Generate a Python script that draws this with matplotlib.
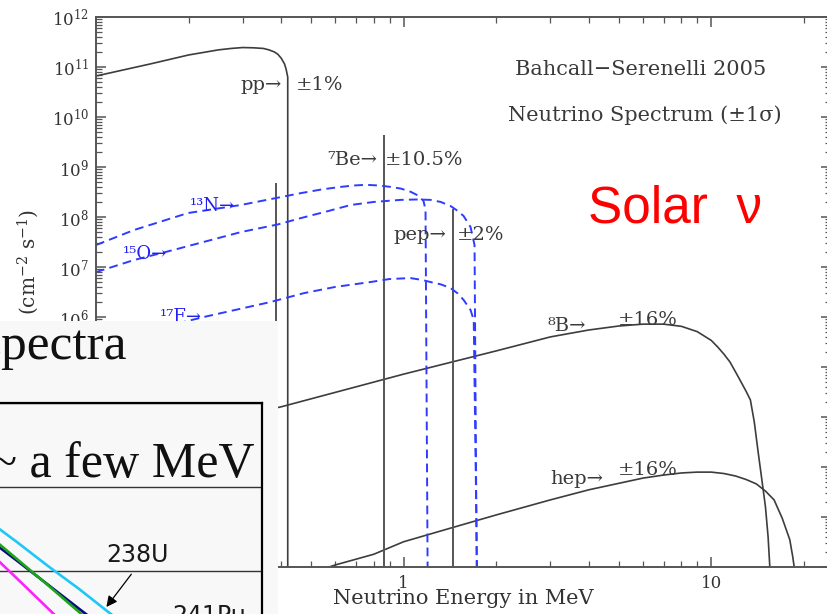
import numpy as np
import matplotlib.pyplot as plt
from matplotlib.patches import Rectangle
from matplotlib.ticker import LogLocator, FuncFormatter, NullFormatter

plt.rcParams['font.family'] = ['DejaVu Serif']
plt.rcParams['mathtext.fontset'] = 'dejavuserif'

W, H = 827, 614

# solar neutrino spectra, BS05 (MeV, flux)
pp_energy = [0.10, 0.15, 0.20, 0.25, 0.275, 0.30, 0.325, 0.35, 0.365, 0.38, 0.39, 0.40, 0.41,
             0.415, 0.42, 0.42]
pp_flux = [6.6e10, 1.15e11, 1.74e11, 2.2e11, 2.35e11, 2.45e11, 2.42e11, 2.35e11, 2.2e11, 2.0e11,
           1.8e11, 1.5e11, 1.15e11, 9.0e10, 6.3e10, 1.0]

b8_energy = [0.1, 0.2, 0.4, 1.0, 2.0, 3.0, 4.0, 5.0, 6.0, 7.0, 8.0, 9.0, 10.0, 10.5, 11.0, 11.5,
             12.0, 12.5, 13.0, 13.4, 13.8, 14.2, 14.6, 15.0, 15.3, 15.5, 15.8]
b8_flux = [2.2e3, 6.3e3, 1.6e4, 7.2e4, 2.1e5, 4.0e5, 5.5e5, 6.6e5, 7.2e5, 7.2e5, 6.5e5, 5.1e5,
           3.4e5, 2.5e5, 1.8e5, 1.26e5, 7.9e4, 5.0e4, 3.2e4, 2.2e4, 7.9e3, 2.0e3, 5.6e2, 1.6e2,
           40.0, 10.0, 1.0]

hep_energy = [0.5, 0.6, 0.8, 1.0, 1.5, 2.0, 3.0, 4.0, 6.0, 7.0, 8.0, 9.0, 10.0, 11.0, 12.0, 13.0,
              14.0, 15.0, 16.0, 17.0, 18.0, 18.4, 18.6, 18.8]
hep_flux = [7.6, 11.0, 18.0, 32.0, 66.0, 110.0, 220.0, 350.0, 600.0, 690.0, 760.0, 790.0, 790.0,
            740.0, 660.0, 560.0, 460.0, 330.0, 220.0, 95.0, 35.0, 16.0, 10.0, 1.0]

n13_energy = [0.10, 0.133, 0.199, 0.296, 0.463, 0.54, 0.624, 0.69, 0.753, 0.83, 0.907, 0.98, 1.053,
              1.10, 1.135, 1.16, 1.178, 1.199]
n13_flux = [2.75e7, 5.5e7, 1.2e8, 1.74e8, 3.0e8, 3.55e8, 4.0e8, 4.27e8, 4.4e8, 4.27e8, 4.0e8,
            3.7e8, 3.2e8, 2.8e8, 2.4e8, 2.1e8, 1.4e8, 1.0]

o15_energy = [0.10, 0.133, 0.179, 0.296, 0.39, 0.463, 0.57, 0.673, 0.80, 0.978, 1.10, 1.223, 1.32,
              1.42, 1.50, 1.566, 1.65, 1.70, 1.732]
o15_flux = [7.9e6, 1.38e7, 2.2e7, 5.0e7, 7.1e7, 9.5e7, 1.32e8, 1.74e8, 2.0e8, 2.2e8, 2.24e8,
            2.2e8, 2.0e8, 1.66e8, 1.32e8, 1.05e8, 6.3e7, 2.75e7, 1.0]

f17_energy = [0.10, 0.151, 0.224, 0.37, 0.474, 0.60, 0.78, 0.90, 1.053, 1.15, 1.223, 1.32, 1.42,
              1.50, 1.566, 1.65, 1.69, 1.74]
f17_flux = [2.75e5, 5.5e5, 1.0e6, 2.0e6, 3.0e6, 4.0e6, 5.0e6, 5.75e6, 6.0e6, 5.5e6, 5.0e6, 4.5e6,
            3.8e6, 2.95e6, 2.2e6, 1.38e6, 8.7e5, 1.0]

# line sources: 7Be (0.384, 0.862) and pep
line_energy = [0.384, 0.862, 1.442]
line_flux = [4.8e8, 4.4e9, 1.44e8]

# reactor antineutrino spectra (MeV, per fission per MeV)
reactor_energy = [5.0, 5.5, 6.0, 6.5, 7.0, 7.5, 8.0]
u238_flux = [0.078, 0.041, 0.022, 0.0115, 0.0062, 0.0032, 0.0017]
u235_flux = [0.047, 0.025, 0.0132, 0.0069, 0.0036, 0.0019, 0.0010]
pu239_flux = [0.058, 0.028, 0.0138, 0.0068, 0.0033, 0.0016, 0.0008]
pu241_flux = [0.041, 0.018, 0.0081, 0.0036, 0.0016, 0.00072, 0.00032]

fig = plt.figure(figsize=(W / 100, H / 100), dpi=100)
ax = fig.add_axes([96 / W, 1 - 567 / H, 735 / W, 550 / H])

dark = '#3d3d3d'
blue = '#2f3cff'

ax.plot(pp_energy, pp_flux, color=dark, lw=1.2)
ax.plot(b8_energy, b8_flux, color=dark, lw=1.2)
ax.plot(hep_energy, hep_flux, color=dark, lw=1.2)
ax.vlines(line_energy, 1.0, line_flux, color='#555555', lw=1.4)
for e, f in [(n13_energy, n13_flux), (o15_energy, o15_flux), (f17_energy, f17_flux)]:
    ax.plot(e, f, color=blue, lw=1.4, dashes=(4.5, 2.7))

ax.set_xscale('log')
ax.set_yscale('log')
ax.set_xlim(0.1, 24.5)
ax.set_ylim(10, 1e12)
ax.yaxis.set_major_locator(LogLocator(base=10, numticks=20))
ax.yaxis.set_minor_locator(LogLocator(base=10, subs=np.arange(2, 10), numticks=100))
ax.xaxis.set_minor_locator(LogLocator(base=10, subs=np.arange(2, 10), numticks=100))
ax.xaxis.set_major_formatter(FuncFormatter(lambda v, p: f'{v:g}'))
ax.xaxis.set_minor_formatter(NullFormatter())
ax.yaxis.set_major_formatter(FuncFormatter(lambda v, p: r'$10^{%d}$' % round(np.log10(v))))
ax.yaxis.set_minor_formatter(NullFormatter())
ax.tick_params(which='both', direction='in', top=True, right=True, color='#555555',
               labelcolor='#333333', labelsize=12)
ax.tick_params(which='major', length=7, width=1.1)
ax.tick_params(which='minor', length=4, width=0.9)
ax.tick_params(axis='y', pad=5)
ax.tick_params(axis='x', pad=6)
for s in ax.spines.values():
    s.set_color('#555555')
    s.set_linewidth(1.4)

ax.set_xlabel('Neutrino Energy in MeV', fontsize=15, color='#333333')
ax.xaxis.set_label_coords(0.5, -0.04)


def label(x, y, s, **kw):
    kw.setdefault('color', '#3a3a3a')
    kw.setdefault('fontsize', 14)
    ax.text(x / W, 1 - y / H, s, transform=fig.transFigure, ha='left', va='baseline', **kw)


label(240, 90, 'pp→')
label(296, 90, '±1%')
label(327, 165, '⁷Be→')
label(385, 165, '±10.5%')
label(393, 240, 'pep→')
label(457, 240, '±2%')
label(548, 331, '⁸B→')
label(618, 325, '±16%')
label(550, 484, 'hep→')
label(618, 475, '±16%')
label(190, 211, '¹³N→', color='#2020ee', fontsize=13)
label(123, 259, '¹⁵O→', color='#2020ee', fontsize=13)
label(160, 322, '¹⁷F→', color='#2020ee', fontsize=13)
label(515, 75, 'Bahcall−Serenelli 2005', fontsize=15)
label(508, 121, 'Neutrino Spectrum (±1σ)', fontsize=15)
label(588, 223, 'Solar  ν', color='#ff0000', fontsize=37, family='Liberation Sans')
ax.text(28 / W, 1 - 262 / H, '(cm$^{-2}$ s$^{-1}$)', transform=fig.transFigure, rotation=90,
        ha='center', va='center', fontsize=14.5, color='#333333')

# reactor spectra panel laid over the lower left corner
fig.add_artist(Rectangle((0, 0), 278 / W, (H - 321) / H, transform=fig.transFigure,
                         facecolor='#f8f8f8', edgecolor='none', zorder=2))

ins = fig.add_axes([-350 / W, (H - 655) / H, 612 / W, 252 / H], zorder=3)
ins.set_facecolor('none')
ins.set_yscale('log')
ins.set_xlim(0, 10)
ins.set_ylim(1e-3, 1)
ins.plot(reactor_energy, u238_flux, color='#1ec8f5', lw=1.9)
ins.plot(reactor_energy, u235_flux, color='#0a0a80', lw=1.9)
ins.plot(reactor_energy, pu239_flux, color='#1aa51a', lw=1.9)
ins.plot(reactor_energy, pu241_flux, color='#ff20ff', lw=1.9)
ins.yaxis.grid(True, which='major', color='#333333', lw=1.0)
ins.tick_params(which='both', length=0, labelleft=False, labelbottom=False)
for side in ['top', 'right']:
    ins.spines[side].set_color('black')
    ins.spines[side].set_linewidth(1.6)

tip_e = 7.43
tip_f = 10 ** np.interp(tip_e, reactor_energy, np.log10(u238_flux))
ins.annotate('', xy=(tip_e, tip_f), xycoords='data', xytext=(133, H - 572),
             textcoords='figure pixels',
             arrowprops=dict(arrowstyle='-|>', color='black', lw=0.9, mutation_scale=16))
fig.text(137 / W, 1 - 555 / H, '238U', ha='center', va='center', fontsize=17,
         family='DejaVu Sans', color='#1a1a1a')
fig.text(172 / W, 1 - 623 / H, '241Pu', ha='left', va='baseline', fontsize=17,
         family='DejaVu Sans', color='#1a1a1a')
fig.text(255 / W, 1 - 477 / H, '~ a few MeV', ha='right', va='baseline', fontsize=36,
         family='Liberation Serif', color='#111111')
fig.text(127 / W, 1 - 359 / H, 'spectra', ha='right', va='baseline', fontsize=37,
         family='Liberation Serif', color='#111111')

fig.savefig('out.png', dpi=100)
